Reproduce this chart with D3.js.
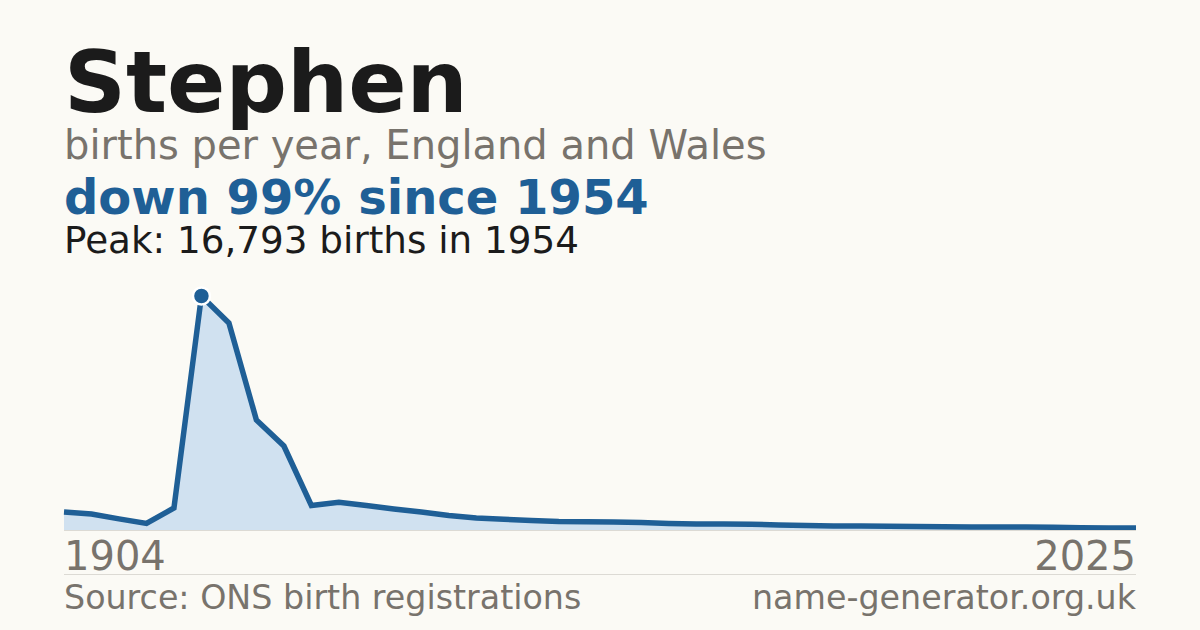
<!DOCTYPE html>
<html>
<head>
<meta charset="utf-8">
<script src="https://cdn.jsdelivr.net/npm/d3@7"></script>
<style>
  html, body { margin: 0; padding: 0; background: #fbfaf5; }
  svg { display: block; font-family: "DejaVu Sans", sans-serif; }
</style>
</head>
<body>
<svg id="chart" width="1200" height="630"></svg>
<script>
const years = [1904, 1914, 1924, 1934, 1944, 1954, 1964, 1974, 1984, 1994,
  1996, 1997, 1998, 1999, 2000, 2001, 2002, 2003, 2004, 2005,
  2006, 2007, 2008, 2009, 2010, 2011, 2012, 2013, 2014, 2015,
  2016, 2017, 2018, 2019, 2020, 2021, 2022, 2023, 2024, 2025];
const births = [1290, 1150, 800, 470, 1580, 16793, 14860, 7900, 6030, 1760,
  1995, 1760, 1510, 1290, 1040, 860, 770, 680, 610, 590,
  575, 540, 465, 430, 430, 410, 360, 325, 290, 287,
  273, 258, 230, 215, 215, 212, 200, 165, 145, 144];
const tickLabels = ["1904", "2025"];
const nameTitle = "Stephen";
const subtitle = "births per year, England and Wales";
const headline = "down 99% since 1954";
const peakText = "Peak: 16,793 births in 1954";
const sourceText = "Source: ONS birth registrations";
const siteText = "name-generator.org.uk";

(function () {
const svg = d3.select("#chart");
const W = 1200, H = 630;
const mLeft = 64, mRight = 1136, mTop = 296, mBase = 530;
const blue = "#1f5f96", grey = "#78736c";

svg.append("rect").attr("width", W).attr("height", H).attr("fill", "#fbfaf5");

svg.append("text").attr("x", mLeft).attr("y", 112).attr("font-size", 86).attr("font-weight", "bold")
  .attr("fill", "#1b1b1b").text(nameTitle);
svg.append("text").attr("x", mLeft).attr("y", 159).attr("font-size", 40).attr("fill", grey).text(subtitle);
svg.append("text").attr("x", mLeft).attr("y", 214).attr("font-size", 48).attr("font-weight", "bold")
  .attr("fill", blue).text(headline);
svg.append("text").attr("x", mLeft).attr("y", 253).attr("font-size", 37.3).attr("fill", "#1b1b1b").text(peakText);

const x = d3.scaleLinear().domain([0, years.length - 1]).range([mLeft, mRight]);
const y = d3.scaleLinear().domain([0, d3.max(births)]).range([mBase, mTop]);

const area = d3.area().x((d, i) => x(i)).y0(mBase).y1(d => y(d));
const line = d3.line().x((d, i) => x(i)).y(d => y(d));

svg.append("path").datum(births).attr("d", area).attr("fill", "#d0e1f0");
svg.append("path").datum(births).attr("d", line).attr("fill", "none")
  .attr("stroke", blue).attr("stroke-width", 5.5).attr("stroke-linejoin", "miter");

svg.append("line").attr("x1", mLeft).attr("x2", mRight).attr("y1", mBase + 0.5).attr("y2", mBase + 0.5)
  .attr("stroke", "#dcdad4").attr("stroke-width", 1);

const pi = births.indexOf(d3.max(births));
svg.append("circle").attr("cx", x(pi)).attr("cy", y(births[pi])).attr("r", 8.5)
  .attr("fill", blue).attr("stroke", "#ffffff").attr("stroke-width", 2.5);

const xt = d3.scaleOrdinal().domain(tickLabels).range([mLeft, mRight]);
svg.selectAll("text.tick").data(tickLabels).join("text").attr("class", "tick")
  .attr("x", d => xt(d)).attr("y", 570).attr("font-size", 40).attr("fill", grey)
  .attr("text-anchor", (d, i) => i === 0 ? "start" : "end").text(d => d);

svg.append("line").attr("x1", mLeft).attr("x2", mRight).attr("y1", 574.5).attr("y2", 574.5)
  .attr("stroke", "#dcdad4").attr("stroke-width", 1);

svg.append("text").attr("x", mLeft).attr("y", 609).attr("font-size", 33.3).attr("fill", grey).text(sourceText);
svg.append("text").attr("x", mRight).attr("y", 609).attr("font-size", 33.3).attr("fill", grey)
  .attr("text-anchor", "end").text(siteText);
})();
</script>
</body>
</html>
